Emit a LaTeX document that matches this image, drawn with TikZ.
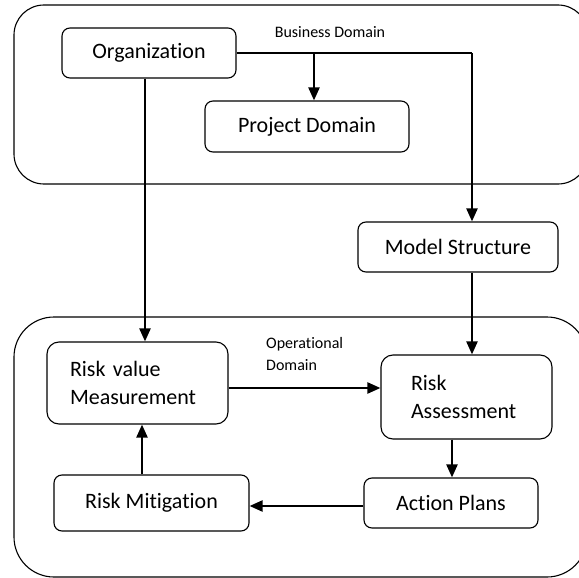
\documentclass[tikz,border=0pt]{standalone}
\usepackage{fontspec}
\setmainfont{Carlito}[Ligatures={NoCommon}]
\usetikzlibrary{arrows.meta}
\begin{document}
\begin{tikzpicture}[x=1pt,y=-1pt,
  domainbox/.style={draw, line width=1.1pt},
  box/.style={draw, line width=1.1pt, rounded corners=8pt, inner sep=0pt,
              font=\fontsize{22}{28}\selectfont},
  tallbox/.style={box, rounded corners=12pt, align=left},
  conn/.style={line width=2.2pt, -{Triangle[length=13pt,width=11pt]}},
  plainline/.style={line width=1.3pt},
  smalltext/.style={font=\fontsize{16}{22}\selectfont, inner sep=0pt, align=left}]
\useasboundingbox (0,0) rectangle (579,578);
\clip (0,0) rectangle (579,578);
\fill[white] (0,0) rectangle (579,578);

% the two domains
\draw[domainbox, rounded corners=30pt] (14,5) rectangle (588,184);
\draw[domainbox, rounded corners=40pt] (14,317) rectangle (587,577);

% domain labels
\node[smalltext] (bdlabel) at (330,32) {Business Domain};
\node[smalltext, anchor=west] (odlabel) at (266,354) {Operational\\Domain};

% business domain nodes
\node[box, minimum width=174pt, minimum height=50pt] (org) at (149,53) {Organization};
\node[box, minimum width=204pt, minimum height=51pt] (proj) at (307,126.5) {Project Domain};
\node[box, minimum width=200pt, minimum height=50pt] (model) at (458,247) {Model Structure};

% operational domain nodes
\node[tallbox, minimum width=181pt, minimum height=82pt, text width=135pt, inner xsep=23pt]
  (rvm) at (137.5,383) {Risk value\\Measurement};
\node[tallbox, minimum width=171pt, minimum height=84pt, text width=111pt, inner xsep=30pt]
  (ra) at (466.5,397) {Risk\\Assessment};
\node[box, minimum width=174pt, minimum height=50pt] (ap) at (451,503) {Action Plans};
\node[box, minimum width=195pt, minimum height=56pt] (rm) at (151.5,503) {Risk Mitigation};

% connectors
\coordinate (split) at (314,53);
\coordinate (turn) at (472,53);
\draw[plainline] (org.east) -- (turn);
\draw[conn] (split) -- (split |- proj.north);
\draw[conn] (turn) -- (turn |- model.north);
\draw[conn] ([xshift=-4pt]org.south) -- ([xshift=-4pt]org.south |- rvm.north);
\draw[conn] ([xshift=14pt]model.south) -- ([xshift=14pt]model.south |- ra.north);
\draw[conn] ([yshift=-5pt]rvm.east) -- ([yshift=-5pt]rvm.east -| ra.west);
\draw[conn] ([xshift=-14.5pt]ra.south) -- ([xshift=-14.5pt]ra.south |- ap.north);
\draw[conn] ([yshift=-3pt]ap.west) -- ([yshift=-3pt]ap.west -| rm.east);
\draw[conn] ([xshift=-9.5pt]rm.north) -- ([xshift=-9.5pt]rm.north |- rvm.south);
\end{tikzpicture}
\end{document}
